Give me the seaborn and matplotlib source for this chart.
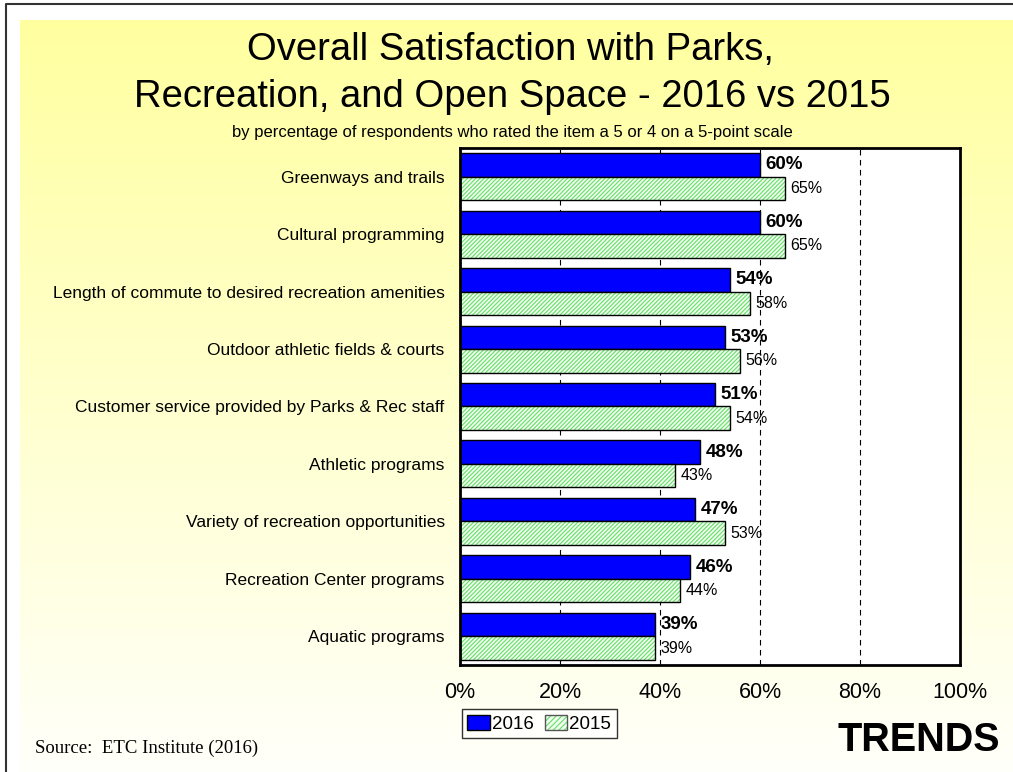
import numpy as np
import pandas as pd
import matplotlib.pyplot as plt
import seaborn as sns
from matplotlib.patches import Patch, Rectangle

# Data
items = ['Greenways and trails', 'Cultural programming',
         'Length of commute to desired recreation amenities',
         'Outdoor athletic fields & courts',
         'Customer service provided by Parks & Rec staff',
         'Athletic programs', 'Variety of recreation opportunities',
         'Recreation Center programs', 'Aquatic programs']
vals_2016 = [60, 60, 54, 53, 51, 48, 47, 46, 39]
vals_2015 = [65, 65, 58, 56, 54, 43, 53, 44, 39]
years = ['2016', '2015']
x_ticks = [0, 20, 40, 60, 80, 100]

df = pd.DataFrame({
    'Item': items * 2,
    'Year': ['2016'] * len(items) + ['2015'] * len(items),
    'Pct': vals_2016 + vals_2015,
})

sns.set_style('white')
plt.rcParams['font.family'] = ['Liberation Sans', 'DejaVu Sans']
plt.rcParams['text.color'] = 'black'
plt.rcParams['xtick.color'] = 'black'
plt.rcParams['ytick.color'] = 'black'
plt.rcParams['hatch.linewidth'] = 0.8

fig = plt.figure(figsize=(10.13, 7.72), dpi=100)
fig.patch.set_facecolor('white')

# slide background: yellow fading to white
bg = fig.add_axes([20 / 1013, 0, 1 - 20 / 1013, 1 - 20 / 772])
grad = np.linspace(0, 1, 256).reshape(-1, 1)
top = np.array([255, 255, 160]) / 255
bot = np.array([255, 255, 250]) / 255
img = top + (bot - top) * grad[..., None]
bg.imshow(img, aspect='auto', extent=[0, 1, 0, 1], origin='upper')
bg.set_axis_off()

# slide border
border = fig.add_axes([0, 0, 1, 1], facecolor='none')
border.plot([6 / 1013, 6 / 1013, 1], [0, 1 - 4 / 772, 1 - 4 / 772],
            color='#333333', lw=1.5, transform=border.transAxes)
border.set_axis_off()

blue = '#0000FF'
green_fill = '#F0FFF0'
green_hatch = '#66DD66'
ax = fig.add_axes([460 / 1013, 107 / 772, 500 / 1013, 517 / 772])
ax.set_facecolor('white')
sns.barplot(data=df, x='Pct', y='Item', hue='Year', hue_order=years,
            orient='h', palette={'2016': blue, '2015': green_fill},
            saturation=1, edgecolor='black', linewidth=1, width=0.82,
            ax=ax, zorder=3)

# hatch the 2015 bars in green, keep a black outline on top
for bar in ax.containers[1]:
    bar.set_hatch('////////')
    bar.set_edgecolor(green_hatch)
    bar.set_linewidth(0)
    ax.add_patch(Rectangle(bar.get_xy(), bar.get_width(), bar.get_height(),
                           fill=False, edgecolor='black', lw=1, zorder=4))

# value labels
for cont, bold in zip(ax.containers, [True, False]):
    ax.bar_label(cont, fmt='%d%%', padding=4,
                 fontsize=13.5 if bold else 11.5,
                 fontweight='bold' if bold else 'normal', zorder=5)

ax.set_xlim(0, 100)
ax.set_xticks(x_ticks)
ax.set_xticklabels([f'{t}%' for t in x_ticks], fontsize=15.5)
ax.tick_params(axis='x', direction='in', length=5, pad=12)
ax.tick_params(axis='y', length=0, labelsize=12.5, pad=11)
ax.set_xlabel('')
ax.set_ylabel('')
for t in [20, 40, 60, 80]:
    ax.axvline(t, color='black', ls=(0, (5, 4)), lw=0.8, zorder=1)
for s in ax.spines.values():
    s.set_color('black')
    s.set_linewidth(2)
    s.set_zorder(6)

h2016 = Patch(facecolor=blue, edgecolor='black', lw=1)
h2015 = (Patch(facecolor=green_fill, edgecolor=green_hatch, hatch='//////', lw=0),
         Patch(fill=False, edgecolor='#555555', lw=1))
leg = ax.legend(handles=[h2016, h2015], labels=years, loc='upper left',
                bbox_to_anchor=(0.003, -0.085), ncol=2, fontsize=13.5,
                frameon=True, fancybox=False, edgecolor='black',
                handlelength=1.2, handleheight=0.85, handletextpad=0.1,
                columnspacing=0.6, borderpad=0.3, borderaxespad=0)
leg.get_frame().set_linewidth(1)

fig.text(510 / 1013, 1 - 50 / 772, 'Overall Satisfaction with Parks,',
         ha='center', va='center', fontsize=27.5)
fig.text(512 / 1013, 1 - 97 / 772, 'Recreation, and Open Space - 2016 vs 2015',
         ha='center', va='center', fontsize=27.5)
fig.text(512 / 1013, 1 - 132 / 772,
         'by percentage of respondents who rated the item a 5 or 4 on a 5-point scale',
         ha='center', va='center', fontsize=12)
fig.text(35 / 1013, 1 - 748 / 772, 'Source:  ETC Institute (2016)',
         ha='left', va='center', fontsize=13.5, family='Liberation Serif')
fig.text(1000 / 1013, 1 - 740 / 772, 'TRENDS', ha='right', va='center',
         fontsize=28.5, fontweight='bold')

plt.savefig('out.png', dpi=100)
